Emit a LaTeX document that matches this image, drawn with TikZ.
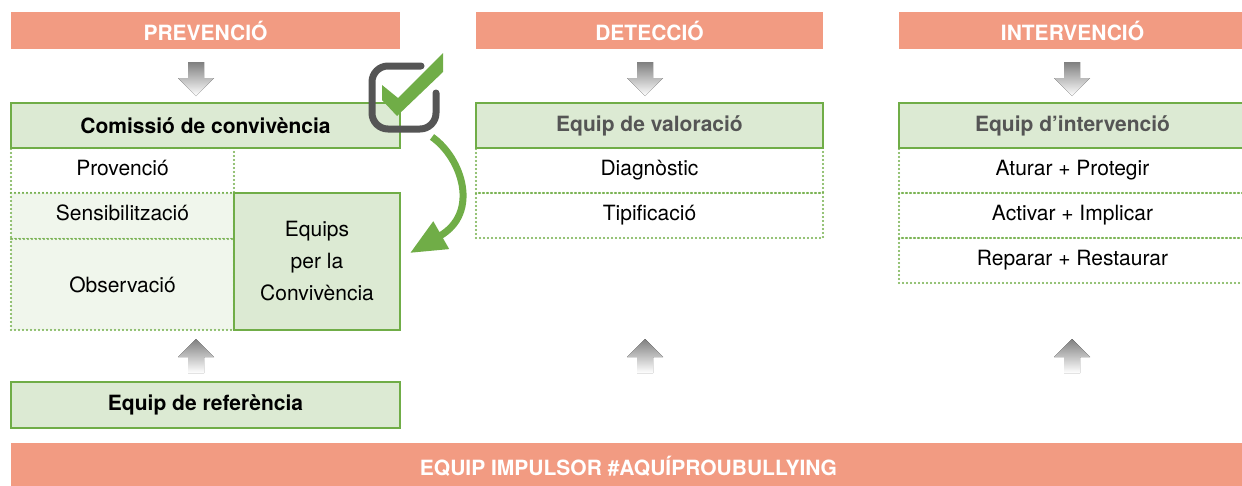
\documentclass[tikz,border=0pt]{standalone}
\usepackage{fontspec}
\setmainfont{TeX Gyre Heros}
\usetikzlibrary{arrows.meta}

\definecolor{salmon}{HTML}{F29B82}
\definecolor{leaf}{HTML}{70AD47}
\definecolor{pale}{HTML}{DCEAD3}
\definecolor{paler}{HTML}{F0F6EC}
\definecolor{shade}{HTML}{C0C0C0}
\definecolor{ink}{HTML}{555555}

\begin{document}
\begin{tikzpicture}[x=1pt,y=-1pt]
    \tikzstyle{phase}=[rectangle,fill=salmon,text=white,font=\fontsize{21}{25}\selectfont\bfseries,inner sep=0pt]
    \tikzstyle{team}=[rectangle,draw=leaf,line width=2.5pt,fill=pale,font=\fontsize{21}{25}\selectfont\bfseries,minimum height=45pt,inner sep=0pt]
    \tikzstyle{task}=[rectangle,draw=leaf,line width=2.4pt,line cap=round,dash pattern=on 0pt off 4pt,font=\fontsize{21}{25}\selectfont,text height=15pt,text depth=6pt,minimum height=45pt,inner sep=0pt]
    \useasboundingbox (0,0) rectangle (1242,485);

    % phases
    \node[phase,minimum width=389pt,minimum height=37pt] (H-0) at (205.5,30.5){PREVENCIÓ};
    \node[phase,minimum width=347pt,minimum height=37pt] (H-1) at (649.5,30.5){DETECCIÓ};
    \node[phase,minimum width=347pt,minimum height=37pt] (H-2) at (1072.5,30.5){INTERVENCIÓ};
    \node[phase,minimum width=1235pt,minimum height=47pt] (H-3) at (628.5,466.5){EQUIP IMPULSOR \#AQUÍPROUBULLYING};

    % tasks
    \node[task,minimum width=223pt,fill=white] (P-0) at (122.5,170.5){Provenció};
    \node[task,minimum width=223pt,minimum height=46pt,fill=paler] (P-1) at (122.5,216){Sensibilització};
    \node[task,minimum width=223pt,minimum height=91pt,fill=paler,text depth=0pt] (P-2) at (122.5,284.5){Observació};

    \node[task,minimum width=347pt] (D-0) at (649.5,170.5){Diagnòstic};
    \node[task,minimum width=347pt] (D-1) at (649.5,215.5){Tipificació};

    \node[task,minimum width=347pt] (I-0) at (1072.5,170.5){Aturar + Protegir};
    \node[task,minimum width=347pt] (I-1) at (1072.5,215.5){Activar + Implicar};
    \node[task,minimum width=347pt] (I-2) at (1072.5,260.5){Reparar + Restaurar};

    % teams
    \node[team,minimum width=389pt] (T-0) at (205.5,125.5){Comissió de convivència};
    \node[team,minimum width=347pt,text=ink] (T-1) at (649.5,125.5){Equip de valoració};
    \node[team,minimum width=347pt,text=ink] (T-2) at (1072.5,125.5){Equip d’intervenció};
    \node[team,minimum width=389pt,minimum height=46pt] (T-3) at (205.5,405){Equip de referència};
    \node[team,minimum width=166pt,minimum height=137pt,align=center,font=\fontsize{21}{32}\selectfont] (T-4) at (317,261.5){Equips\\per la\\Convivència};

    % grey arrows
    \foreach \x in {196,645,1072}{
        \fill[shade] (\x-8,62) -- (\x+8,62) -- (\x+8,78) -- (\x+18,78) -- (\x,96) -- (\x-18,78) -- (\x-8,78) -- cycle;
        \fill[shade] (\x-8,373) -- (\x+8,373) -- (\x+8,357) -- (\x+18,357) -- (\x,339) -- (\x-18,357) -- (\x-8,357) -- cycle;
    }

    % check icon
    \fill[leaf] (382,85) -- (398,98) -- (443,53) -- (443,72) -- (397,116) -- (382,100) -- cycle;
    \draw[ink,line width=7pt,line cap=round,rounded corners=16pt] (421,66) -- (372,66) -- (372,129) -- (436,129) -- (436,93);
    \coordinate (C-0) at (432,137);
    \coordinate (C-1) at (410,253);
    \draw[leaf,line width=7pt,-{Triangle[length=36pt,width=30pt]}] (C-0) .. controls (462,158) and (480,213) .. (C-1);
\end{tikzpicture}
\end{document}
